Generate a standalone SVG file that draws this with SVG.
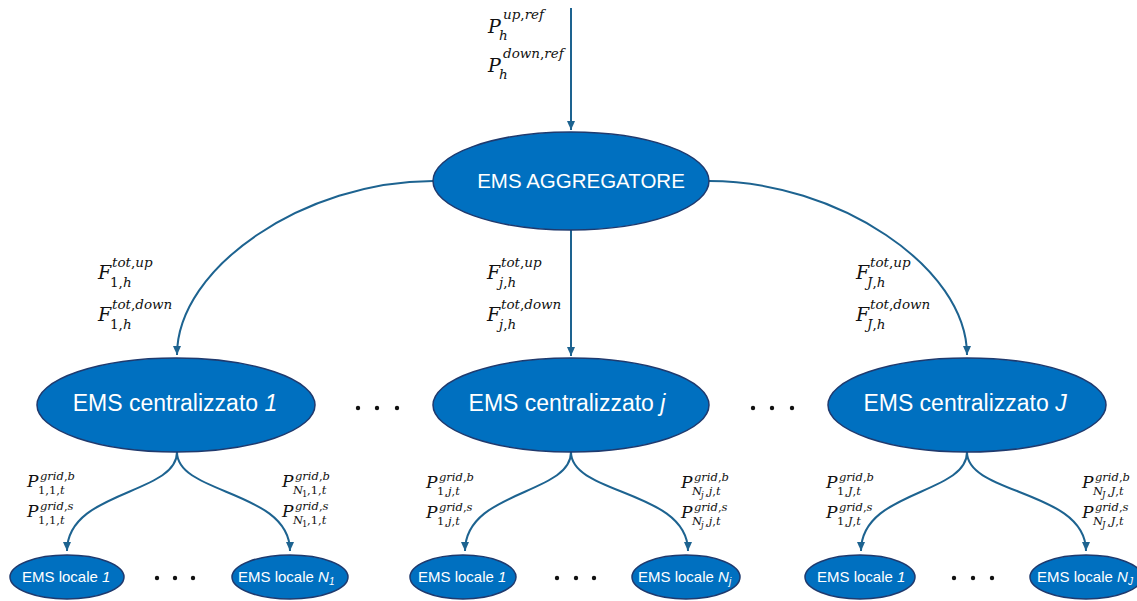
<svg xmlns="http://www.w3.org/2000/svg" width="1137" height="601" viewBox="0 0 1137 601">
<style>
.node ellipse{fill:#0070C0;stroke:#1F3A6E;stroke-width:1.5}
.lbl{fill:#fff;font-family:"Liberation Sans",Arial,sans-serif}
.conn path{fill:none;stroke:#1D6390;stroke-width:2;marker-end:url(#ah)}
.m{font-family:"DejaVu Serif",serif;fill:#111}
.i{font-style:italic}
.big{font-size:19px}
.mid{font-size:17px}
.s{font-size:13.5px}
.ss{font-size:11.5px}
.sss{font-size:8.5px}
.dot{fill:#111}
</style>
<defs>
<marker id="ah" markerUnits="userSpaceOnUse" markerWidth="10" markerHeight="10" refX="9" refY="5" orient="auto">
<path d="M0,1 L9,5 L0,9 z" fill="#1D6390"/>
</marker>
</defs>
<rect width="1137" height="601" fill="#fff"/>

<g id="connectors" class="conn">
<path d="M571,8 L571,130"/>
<path d="M433,181 C305,181 177,267 177,355"/>
<path d="M571,230 L571,356"/>
<path d="M709,181 C837,181 967,267 967,355"/>
<path d="M177,452 C177,495 67,490 67,551"/>
<path d="M177,452 C177,495 290,490 290,551"/>
<path d="M571,452 C571,495 465,490 465,551"/>
<path d="M571,452 C571,495 688,490 688,551"/>
<path d="M967,452 C967,495 861,490 861,551"/>
<path d="M967,452 C967,495 1086,490 1086,551"/>
</g>

<g id="aggregatore" class="node">
<ellipse cx="571" cy="181" rx="138" ry="49"/>
<text class="lbl" x="581" y="188" font-size="20.5" text-anchor="middle">EMS AGGREGATORE</text>
</g>
<g id="centralizzato1" class="node">
<ellipse cx="176" cy="405" rx="139" ry="47"/>
<text class="lbl" x="175" y="411" font-size="23" text-anchor="middle">EMS centralizzato <tspan class="i">1</tspan></text>
</g>
<g id="centralizzatoj" class="node">
<ellipse cx="571" cy="405" rx="138" ry="47"/>
<text class="lbl" x="567" y="411" font-size="23" text-anchor="middle">EMS centralizzato <tspan class="i">j</tspan></text>
</g>
<g id="centralizzatoJ" class="node">
<ellipse cx="967" cy="405" rx="139" ry="47"/>
<text class="lbl" x="965" y="411" font-size="23" text-anchor="middle">EMS centralizzato <tspan class="i">J</tspan></text>
</g>

<g id="locale_1_1" class="node">
<ellipse cx="67" cy="577" rx="57" ry="22"/>
<text class="lbl" x="22" y="582" font-size="15">EMS locale <tspan class="i">1</tspan></text>
</g>
<g id="locale_N1_1" class="node">
<ellipse cx="290" cy="577" rx="58" ry="22"/>
<text class="lbl" x="238" y="582" font-size="15">EMS locale <tspan class="i">N</tspan><tspan class="i" font-size="10" dy="3">1</tspan></text>
</g>
<g id="locale_1_j" class="node">
<ellipse cx="463" cy="577" rx="53" ry="22"/>
<text class="lbl" x="418" y="582" font-size="15">EMS locale <tspan class="i">1</tspan></text>
</g>
<g id="locale_Nj_j" class="node">
<ellipse cx="686" cy="577" rx="54" ry="22"/>
<text class="lbl" x="638" y="582" font-size="15">EMS locale <tspan class="i">N</tspan><tspan class="i" font-size="10" dy="3">j</tspan></text>
</g>
<g id="locale_1_J" class="node">
<ellipse cx="860" cy="577" rx="55" ry="22"/>
<text class="lbl" x="817" y="582" font-size="15">EMS locale <tspan class="i">1</tspan></text>
</g>
<g id="locale_NJ_J" class="node">
<ellipse cx="1086" cy="577" rx="56" ry="22"/>
<text class="lbl" x="1037" y="582" font-size="15">EMS locale <tspan class="i">N</tspan><tspan class="i" font-size="10" dy="3">J</tspan></text>
</g>

<g id="dots">
<circle class="dot" cx="358" cy="408" r="2.2"/><circle class="dot" cx="377" cy="408" r="2.2"/><circle class="dot" cx="397" cy="408" r="2.2"/>
<circle class="dot" cx="753" cy="408" r="2.2"/><circle class="dot" cx="772" cy="408" r="2.2"/><circle class="dot" cx="792" cy="408" r="2.2"/>
<circle class="dot" cx="157" cy="578" r="2.2"/><circle class="dot" cx="175" cy="578" r="2.2"/><circle class="dot" cx="193" cy="578" r="2.2"/>
<circle class="dot" cx="557" cy="578" r="2.2"/><circle class="dot" cx="576" cy="578" r="2.2"/><circle class="dot" cx="594" cy="578" r="2.2"/>
<circle class="dot" cx="954" cy="578" r="2.2"/><circle class="dot" cx="973" cy="578" r="2.2"/><circle class="dot" cx="992" cy="578" r="2.2"/>
</g>

<g id="labels" class="m">
<text><tspan class="big i" x="488" y="33">P</tspan><tspan class="s i" x="503" y="19">up<tspan font-style="normal">,</tspan>ref</tspan><tspan class="s i" x="499" y="40">h</tspan></text>
<text><tspan class="big i" x="488" y="72">P</tspan><tspan class="s i" x="503" y="58">down<tspan font-style="normal">,</tspan>ref</tspan><tspan class="s i" x="499" y="79">h</tspan></text>

<text><tspan class="big i" x="98" y="279">F</tspan><tspan class="s i" x="112" y="267">tot<tspan font-style="normal">,</tspan>up</tspan><tspan class="s" x="110" y="287">1,<tspan class="i">h</tspan></tspan></text>
<text><tspan class="big i" x="98" y="321">F</tspan><tspan class="s i" x="112" y="309">tot<tspan font-style="normal">,</tspan>down</tspan><tspan class="s" x="110" y="329">1,<tspan class="i">h</tspan></tspan></text>

<text><tspan class="big i" x="487" y="279">F</tspan><tspan class="s i" x="501" y="267">tot<tspan font-style="normal">,</tspan>up</tspan><tspan class="s i" x="499" y="287">j<tspan font-style="normal">,</tspan>h</tspan></text>
<text><tspan class="big i" x="487" y="321">F</tspan><tspan class="s i" x="501" y="309">tot<tspan font-style="normal">,</tspan>down</tspan><tspan class="s i" x="499" y="329">j<tspan font-style="normal">,</tspan>h</tspan></text>

<text><tspan class="big i" x="856" y="279">F</tspan><tspan class="s i" x="870" y="267">tot<tspan font-style="normal">,</tspan>up</tspan><tspan class="s i" x="867" y="287">J<tspan font-style="normal">,</tspan>h</tspan></text>
<text><tspan class="big i" x="856" y="321">F</tspan><tspan class="s i" x="870" y="309">tot<tspan font-style="normal">,</tspan>down</tspan><tspan class="s i" x="867" y="329">J<tspan font-style="normal">,</tspan>h</tspan></text>

<text><tspan class="mid i" x="27" y="487">P</tspan><tspan class="ss i" x="40" y="480">grid<tspan font-style="normal">,</tspan>b</tspan><tspan class="ss" x="38" y="494">1,1,<tspan class="i">t</tspan></tspan></text>
<text><tspan class="mid i" x="27" y="517">P</tspan><tspan class="ss i" x="40" y="510">grid<tspan font-style="normal">,</tspan>s</tspan><tspan class="ss" x="38" y="524">1,1,<tspan class="i">t</tspan></tspan></text>
<text><tspan class="mid i" x="282" y="487">P</tspan><tspan class="ss i" x="295" y="480">grid<tspan font-style="normal">,</tspan>b</tspan><tspan class="ss i" x="293" y="494">N</tspan><tspan class="sss" x="302" y="497">1</tspan><tspan class="ss" x="307" y="494">,1,<tspan class="i">t</tspan></tspan></text>
<text><tspan class="mid i" x="282" y="517">P</tspan><tspan class="ss i" x="295" y="510">grid<tspan font-style="normal">,</tspan>s</tspan><tspan class="ss i" x="293" y="524">N</tspan><tspan class="sss" x="302" y="527">1</tspan><tspan class="ss" x="307" y="524">,1,<tspan class="i">t</tspan></tspan></text>

<text><tspan class="mid i" x="426" y="488">P</tspan><tspan class="ss i" x="439" y="481">grid<tspan font-style="normal">,</tspan>b</tspan><tspan class="ss" x="437" y="495">1,<tspan class="i">j</tspan>,<tspan class="i">t</tspan></tspan></text>
<text><tspan class="mid i" x="426" y="518">P</tspan><tspan class="ss i" x="439" y="511">grid<tspan font-style="normal">,</tspan>s</tspan><tspan class="ss" x="437" y="525">1,<tspan class="i">j</tspan>,<tspan class="i">t</tspan></tspan></text>
<text><tspan class="mid i" x="681" y="488">P</tspan><tspan class="ss i" x="694" y="481">grid<tspan font-style="normal">,</tspan>b</tspan><tspan class="ss i" x="692" y="495">N</tspan><tspan class="sss i" x="701" y="498">j</tspan><tspan class="ss" x="705" y="495">,<tspan class="i">j</tspan>,<tspan class="i">t</tspan></tspan></text>
<text><tspan class="mid i" x="681" y="518">P</tspan><tspan class="ss i" x="694" y="511">grid<tspan font-style="normal">,</tspan>s</tspan><tspan class="ss i" x="692" y="525">N</tspan><tspan class="sss i" x="701" y="528">j</tspan><tspan class="ss" x="705" y="525">,<tspan class="i">j</tspan>,<tspan class="i">t</tspan></tspan></text>

<text><tspan class="mid i" x="826" y="488">P</tspan><tspan class="ss i" x="839" y="481">grid<tspan font-style="normal">,</tspan>b</tspan><tspan class="ss" x="837" y="495">1,<tspan class="i">J</tspan>,<tspan class="i">t</tspan></tspan></text>
<text><tspan class="mid i" x="826" y="518">P</tspan><tspan class="ss i" x="839" y="511">grid<tspan font-style="normal">,</tspan>s</tspan><tspan class="ss" x="837" y="525">1,<tspan class="i">J</tspan>,<tspan class="i">t</tspan></tspan></text>
<text><tspan class="mid i" x="1082" y="488">P</tspan><tspan class="ss i" x="1095" y="481">grid<tspan font-style="normal">,</tspan>b</tspan><tspan class="ss i" x="1093" y="495">N</tspan><tspan class="sss i" x="1102" y="498">J</tspan><tspan class="ss" x="1107" y="495">,<tspan class="i">J</tspan>,<tspan class="i">t</tspan></tspan></text>
<text><tspan class="mid i" x="1082" y="518">P</tspan><tspan class="ss i" x="1095" y="511">grid<tspan font-style="normal">,</tspan>s</tspan><tspan class="ss i" x="1093" y="525">N</tspan><tspan class="sss i" x="1102" y="528">J</tspan><tspan class="ss" x="1107" y="525">,<tspan class="i">J</tspan>,<tspan class="i">t</tspan></tspan></text>
</g>
</svg>
